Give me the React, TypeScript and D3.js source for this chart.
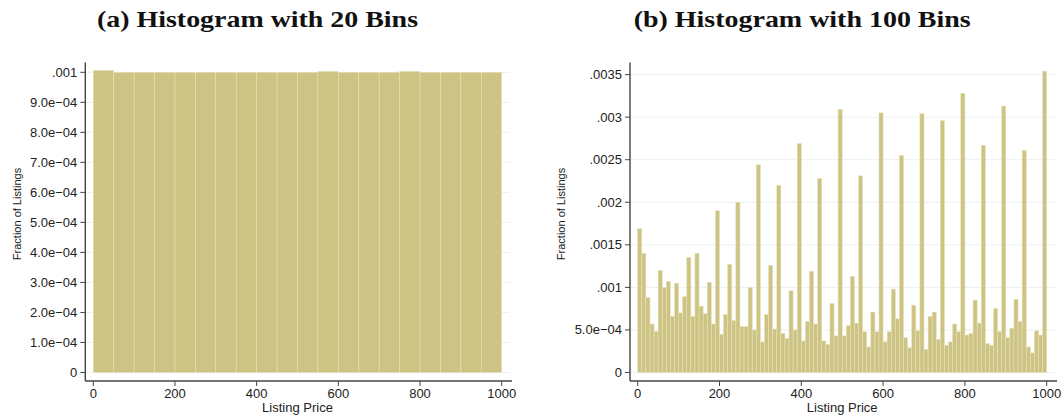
import React from 'react';
import * as d3 from 'd3';

// bin heights
const bins20 = [
  0.001006, 0.001, 0.001, 0.001, 0.001, 0.001, 0.001, 0.001, 0.001, 0.001,
  0.001, 0.001003, 0.001, 0.001, 0.001, 0.001003, 0.001, 0.001, 0.001, 0.001,
];

const bins100 = [
  0.00169, 0.0014, 0.00088, 0.00057, 0.00048, 0.0012, 0.001, 0.00107, 0.00066, 0.00105,
  0.0007, 0.00089, 0.00135, 0.00066, 0.0014, 0.00078, 0.00069, 0.00106, 0.00057, 0.0019,
  0.00045, 0.00068, 0.00127, 0.00061, 0.002, 0.00054, 0.00054, 0.001, 0.0005, 0.00244,
  0.00036, 0.00068, 0.00126, 0.00051, 0.0022, 0.00046, 0.0004, 0.00096, 0.0005, 0.00269,
  0.00037, 0.0006, 0.00119, 0.00057, 0.00228, 0.00037, 0.00033, 0.00081, 0.00043, 0.00309,
  0.00043, 0.00055, 0.00113, 0.00058, 0.00231, 0.00048, 0.0003, 0.00071, 0.00048, 0.00305,
  0.00036, 0.00048, 0.00098, 0.00063, 0.00255, 0.00041, 0.00029, 0.00079, 0.00049, 0.00304,
  0.00027, 0.00066, 0.00071, 0.00039, 0.00296, 0.00032, 0.00036, 0.00057, 0.00048, 0.00328,
  0.00044, 0.00046, 0.00085, 0.00058, 0.00267, 0.00034, 0.00032, 0.00075, 0.00048, 0.00313,
  0.00041, 0.00052, 0.00086, 0.0006, 0.00261, 0.0003, 0.00023, 0.00049, 0.00044, 0.00354,
];

const xTicks = [0, 200, 400, 600, 800, 1000];

const yTicksA = [0, 0.0001, 0.0002, 0.0003, 0.0004, 0.0005, 0.0006, 0.0007, 0.0008, 0.0009, 0.001];
const yLabelsA = ['0', '1.0e\u221204', '2.0e\u221204', '3.0e\u221204', '4.0e\u221204', '5.0e\u221204',
  '6.0e\u221204', '7.0e\u221204', '8.0e\u221204', '9.0e\u221204', '.001'];

const yTicksB = [0, 0.0005, 0.001, 0.0015, 0.002, 0.0025, 0.003, 0.0035];
const yLabelsB = ['0', '5.0e\u221204', '.001', '.0015', '.002', '.0025', '.003', '.0035'];

const BAR = '#cdc384';
const BAR_EDGE = '#e7e1b6';
const GRID = '#e9f1f2';
const AXIS = '#444';
const SANS = '"Liberation Sans", Arial, Helvetica, sans-serif';
const SERIF = '"Liberation Serif", "DejaVu Serif", serif';

type PanelProps = {
  title: string;
  titleWidth: number;
  bins: number[];
  yTicks: number[];
  yLabels: string[];
  yMax: number;
  yTopPx: number;
  x0: number; // pixel of listing price 0
  x1: number; // pixel of listing price 1000
  axisX: number;
  gridRight: number;
  yTitleX: number;
};

function Panel({ title, titleWidth, bins, yTicks, yLabels, yMax, yTopPx, x0, x1, axisX, gridRight, yTitleX }: PanelProps) {
  const x = d3.scaleLinear().domain([0, 1000]).range([x0, x1]);
  const y = d3.scaleLinear().domain([0, yMax]).range([372.5, yTopPx]);
  const axisY = 381;
  const w = 1000 / bins.length;

  return (
    <g>
      <text x={(x0 + x1) / 2 - 40} y={27} textAnchor="middle" fontFamily={SERIF} fontWeight="bold"
        fontSize={24} fill="#111" textLength={titleWidth} lengthAdjust="spacingAndGlyphs">{title}</text>

      {yTicks.map((t) => (
        <line key={'g' + t} x1={axisX} x2={gridRight} y1={y(t)} y2={y(t)} stroke={GRID} strokeWidth={1} />
      ))}

      {bins.map((v, i) => (
        <rect key={i} x={x(i * w)} y={y(v)} width={x((i + 1) * w) - x(i * w)} height={y(0) - y(v)}
          fill={BAR} stroke={BAR_EDGE} strokeWidth={0.6} />
      ))}

      <line x1={axisX} x2={axisX} y1={62.5} y2={axisY} stroke={AXIS} strokeWidth={1.4} />
      <line x1={axisX} x2={gridRight + 2} y1={axisY} y2={axisY} stroke={AXIS} strokeWidth={1.4} />

      {yTicks.map((t, i) => (
        <g key={'y' + t}>
          <line x1={axisX - 5} x2={axisX} y1={y(t)} y2={y(t)} stroke={AXIS} strokeWidth={1} />
          <text x={axisX - 8} y={y(t)} dy="0.35em" textAnchor="end" fontFamily={SANS} fontSize={13}
            fill="#222">{yLabels[i]}</text>
        </g>
      ))}

      {xTicks.map((t) => (
        <g key={'x' + t}>
          <line x1={x(t)} x2={x(t)} y1={axisY} y2={axisY + 5} stroke={AXIS} strokeWidth={1} />
          <text x={x(t)} y={398} textAnchor="middle" fontFamily={SANS} fontSize={13} fill="#222">{t}</text>
        </g>
      ))}

      <text x={(x0 + x1) / 2} y={412} textAnchor="middle" fontFamily={SANS} fontSize={13} fill="#222">
        Listing Price
      </text>
      <text transform={`translate(${yTitleX},214) rotate(-90)`} textAnchor="middle" dy="0.35em"
        fontFamily={SANS} fontSize={11} fill="#222">Fraction of Listings</text>
    </g>
  );
}

export default function App() {
  return (
    <svg width={1064} height={420} style={{ position: 'absolute', left: 0, top: 0, display: 'block', background: '#fff' }}>
      <rect width={1064} height={420} fill="#fff" />
      <Panel title="(a) Histogram with 20 Bins" titleWidth={321} bins={bins20} yTicks={yTicksA} yLabels={yLabelsA}
        yMax={0.001} yTopPx={72.3} x0={93.3} x1={501.7} axisX={85.3} gridRight={510} yTitleX={17} />
      <Panel title="(b) Histogram with 100 Bins" titleWidth={337} bins={bins100} yTicks={yTicksB} yLabels={yLabelsB}
        yMax={0.0035} yTopPx={74.6} x0={637.7} x1={1046.7} axisX={630} gridRight={1055} yTitleX={561.5} />
    </svg>
  );
}
